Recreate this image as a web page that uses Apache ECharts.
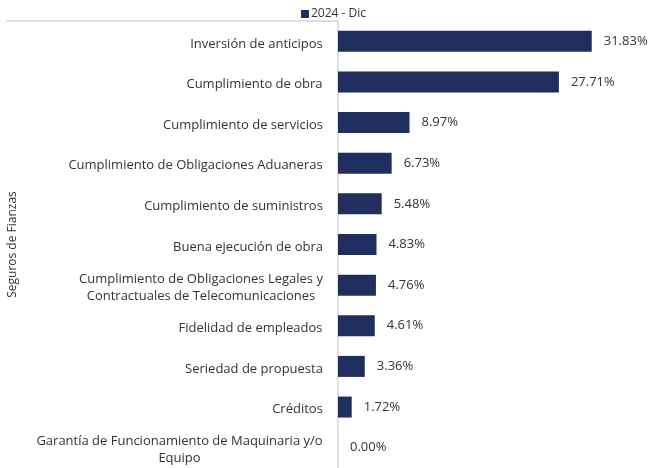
<!DOCTYPE html>
<html>
<head>
<meta charset="utf-8">
<script src="https://cdn.jsdelivr.net/npm/echarts@6/dist/echarts.min.js"></script>
<style>
  html, body { margin: 0; padding: 0; background: #fff; }
  #chart { width: 649px; height: 468px; }
</style>
</head>
<body>
<div id="chart"></div>
<script>
const categories = [
  'Inversión de anticipos',
  'Cumplimiento de obra',
  'Cumplimiento de servicios',
  'Cumplimiento de Obligaciones Aduaneras',
  'Cumplimiento de suministros',
  'Buena ejecución de obra',
  'Cumplimiento de Obligaciones Legales y\nContractuales de Telecomunicaciones',
  'Fidelidad de empleados',
  'Seriedad de propuesta',
  'Créditos',
  'Garantía de Funcionamiento de Maquinaria y/o\nEquipo'
]
const values = [31.83, 27.71, 8.97, 6.73, 5.48, 4.83, 4.76, 4.61, 3.36, 1.72, 0.00]
const seriesName = '2024 - Dic'
const axisName = 'Seguros de Fianzas'

const chart = echarts.init(document.getElementById('chart'))
const font = '"Open Sans", sans-serif'
const navy = '#1f2e5e'
const gris = '#d4d4d4'
const labelSize = 13

// ancho de cada etiqueta, para centrar las líneas dentro del bloque
const ctx = document.createElement('canvas').getContext('2d')
ctx.font = labelSize + 'px ' + font
const rich = {}
categories.forEach((c, i) => {
  const w = Math.max(...c.split('\n').map(s => ctx.measureText(s).width))
  rich['l' + i] = { width: Math.ceil(w), align: 'center', fontSize: labelSize, lineHeight: 17, color: '#333', fontFamily: font }
})

chart.setOption({
  animation: false,
  textStyle: { fontFamily: font },
  legend: {
    data: [seriesName],
    left: 296,
    top: 3,
    itemWidth: 8,
    itemHeight: 8,
    icon: 'rect',
    textStyle: { fontSize: 12, color: '#333', fontFamily: font, padding: [0, 0, 0, -3] }
  },
  grid: {
    left: 338,
    top: 21,
    bottom: -6,
    right: 32
  },
  // línea superior del bloque de categorías
  graphic: [{
    type: 'line',
    shape: { x1: 6, y1: 21, x2: 338, y2: 21 },
    style: { stroke: gris, lineWidth: 1.5 },
    silent: true
  }],
  xAxis: {
    type: 'value',
    min: 0,
    max: 35,
    show: false
  },
  yAxis: {
    type: 'category',
    inverse: true,
    data: categories,
    name: axisName,
    nameLocation: 'middle',
    nameGap: 319,
    nameTextStyle: { fontSize: 12, color: '#333', fontFamily: font },
    axisTick: { show: false },
    axisLine: { lineStyle: { color: gris, width: 1.5 } },
    axisLabel: {
      margin: 15,
      padding: [5, 0, 0, 0],
      fontSize: labelSize,
      color: '#333',
      fontFamily: font,
      formatter: (v, i) => v.split('\n').map(s => '{l' + i + '|' + s + '}').join('\n'),
      rich: rich
    }
  },
  series: [{
    name: seriesName,
    type: 'bar',
    data: values,
    barWidth: 21,
    itemStyle: { color: navy },
    label: {
      show: true,
      position: 'right',
      distance: 12,
      fontSize: 13,
      color: '#333',
      fontFamily: font,
      formatter: p => p.value.toFixed(2) + '%'
    }
  }]
})
</script>
</body>
</html>
